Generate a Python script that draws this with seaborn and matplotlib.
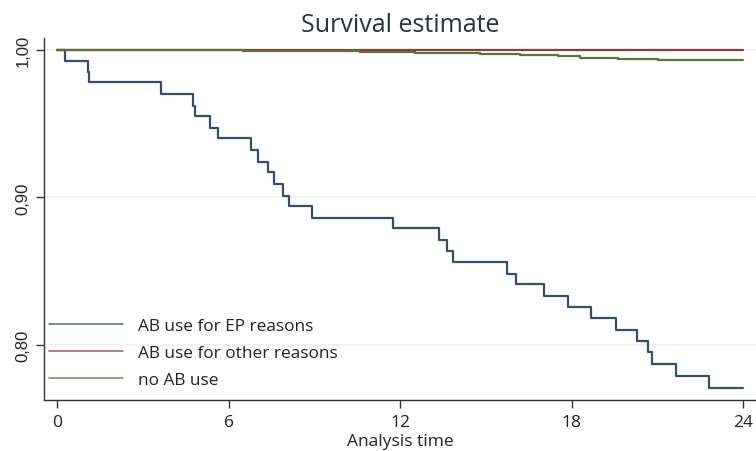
import numpy as np
import pandas as pd
import matplotlib
matplotlib.use("Agg")
import matplotlib.pyplot as plt
import seaborn as sns

# Kaplan-Meier step estimates (time in months, survival probability)
ep_time = [0.0, 0.28, 1.07, 1.12, 3.64, 4.77, 4.82, 5.35, 5.64, 6.77, 7.04, 7.39,
           7.59, 7.91, 8.12, 8.93, 11.74, 13.37, 13.63, 13.86, 15.72, 16.05,
           17.04, 17.88, 18.66, 19.55, 20.27, 20.67, 20.81, 21.64, 22.80, 24.0]
ep_surv = [1.000, 0.9925, 0.985, 0.978, 0.970, 0.962, 0.955, 0.947, 0.940, 0.932,
           0.924, 0.917, 0.909, 0.901, 0.894, 0.886, 0.879, 0.871, 0.864, 0.856,
           0.848, 0.841, 0.833, 0.826, 0.818, 0.810, 0.803, 0.795, 0.787, 0.779,
           0.771, 0.771]

other_time = [0.0, 24.0]
other_surv = [1.000, 1.000]

none_time = [0.0, 4.0, 6.5, 8.5, 10.6, 12.5, 14.8, 16.2, 17.5, 18.3, 19.6, 21.0, 24.0]
none_surv = [1.000, 0.9998, 0.9995, 0.9991, 0.9986, 0.9980, 0.9972, 0.9965,
             0.9957, 0.9944, 0.9938, 0.9932, 0.9932]

groups = ["AB use for EP reasons", "AB use for other reasons", "no AB use"]
colors = ["#33506b", "#8e3a40", "#5a7636"]

x_ticks = [0, 6, 12, 18, 24]
y_ticks = [0.80, 0.90, 1.00]
y_tick_labels = ["0,80", "0,90", "1,00"]

df = pd.concat([
    pd.DataFrame({"time": ep_time, "surv": ep_surv, "group": groups[0]}),
    pd.DataFrame({"time": other_time, "surv": other_surv, "group": groups[1]}),
    pd.DataFrame({"time": none_time, "surv": none_surv, "group": groups[2]}),
], ignore_index=True)

sns.set_style("white")
plt.rcParams["font.family"] = ["Open Sans", "DejaVu Sans"]

W, H = 756, 452
fig = plt.figure(figsize=(W / 100, H / 100), dpi=100)
left, right, top, bottom = 44, 756, 39, 400.7
ax = fig.add_axes([left / W, 1 - bottom / H, (right - left) / W, (bottom - top) / H])

# light horizontal grid
for yv in y_ticks:
    ax.axhline(yv, color="#eaf0f2", lw=1.2, zorder=0)

sns.lineplot(data=df, x="time", y="surv", hue="group", hue_order=groups,
             palette=colors, estimator=None, sort=False, drawstyle="steps-post",
             linewidth=1.6, ax=ax, legend=False)

ax.set_xlim(-0.455, 24.44)
ax.set_ylim(0.7629, 1.0081)
ax.set_xticks(x_ticks)
ax.set_xticklabels([str(t) for t in x_ticks], fontsize=12.5, color="#222222")
ax.set_yticks(y_ticks)
ax.set_yticklabels(y_tick_labels, fontsize=12, color="#222222",
                   rotation=90, va="center", family=["Liberation Sans", "DejaVu Sans"])
ax.tick_params(axis="both", direction="out", length=5.5, width=1,
               color="#333333", bottom=True, left=True)
ax.tick_params(axis="x", pad=5)
ax.tick_params(axis="y", pad=4)

for s in ["top", "right"]:
    ax.spines[s].set_visible(False)
for s in ["left", "bottom"]:
    ax.spines[s].set_color("#333333")
    ax.spines[s].set_linewidth(1.0)

ax.set_xlabel("Analysis time", fontsize=12.5, color="#222222", labelpad=2)
ax.set_ylabel("")

handles = [plt.Line2D([], [], color=c, lw=1.1, alpha=0.85) for c in colors]
ax.legend(handles, groups, loc="lower left", bbox_to_anchor=(-0.01, 0.0),
          frameon=False, fontsize=12.4, handlelength=4.3, handletextpad=0.85,
          labelspacing=0.62, borderaxespad=0.3, labelcolor="#222222")

fig.text(400 / W, 1 - 25 / H, "Survival estimate", ha="center", va="center",
         fontsize=18, color="#243345")

fig.savefig("out.png", dpi=100, facecolor="white")
